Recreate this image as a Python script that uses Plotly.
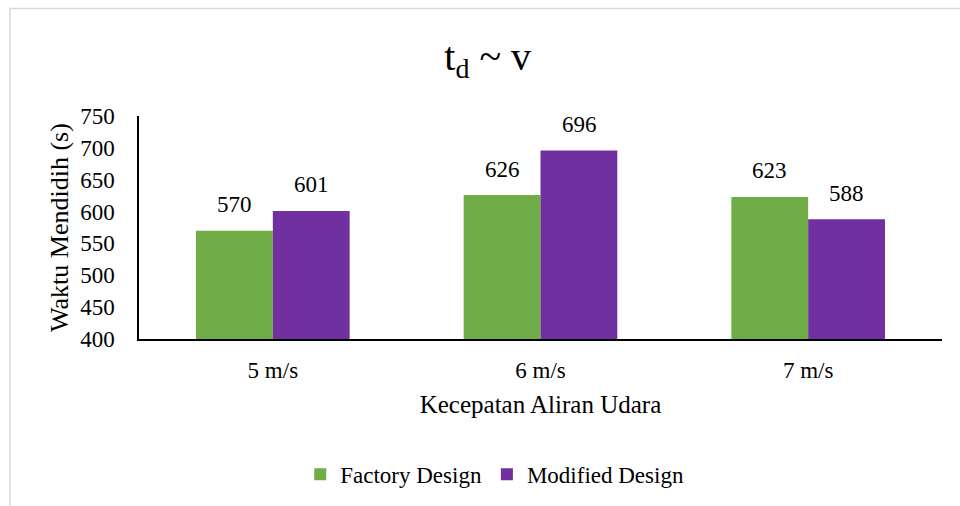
import plotly.graph_objects as go

# Boiling time (s) for each air-flow speed
categories = ["5 m/s", "6 m/s", "7 m/s"]
factory_design = [570, 626, 623]
modified_design = [601, 696, 588]
series_names = ["Factory Design", "Modified Design"]
y_ticks = [400, 450, 500, 550, 600, 650, 700, 750]

GREEN = "#70AD47"
PURPLE = "#7030A0"
FONT = "Liberation Serif"
TXT = 23

fig = go.Figure()
fig.add_trace(go.Bar(x=categories, y=factory_design, name=series_names[0],
                     marker=dict(color=GREEN, line=dict(width=0))))
fig.add_trace(go.Bar(x=categories, y=modified_design, name=series_names[1],
                     marker=dict(color=PURPLE, line=dict(width=0))))

# value labels above each bar
half = 38.5
for vals, shift in ((factory_design, -half), (modified_design, half)):
    for c, v in zip(categories, vals):
        fig.add_annotation(x=c, y=v, text=str(v), showarrow=False,
                           xshift=shift, yshift=26, yanchor="middle",
                           font=dict(family=FONT, size=TXT, color="#000000"))

# light frame around the chart area
fig.add_shape(type="rect", xref="paper", yref="paper",
              x0=-0.1606, x1=1.2, y0=-1.0, y1=1.482,
              line=dict(color="#D9D9D9", width=1.5), fillcolor="rgba(0,0,0,0)",
              layer="below")

fig.update_layout(
    width=960, height=506,
    margin=dict(l=139, r=18, t=116, b=166),
    paper_bgcolor="white", plot_bgcolor="white",
    barmode="group", bargap=0.426, bargroupgap=0,
    font=dict(family=FONT, size=TXT, color="#000000"),
    title=dict(text="t<sub>d</sub> ~ v", x=0.508, xanchor="center",
               y=0.89, yanchor="middle",
               font=dict(family=FONT, size=40, color="#000000")),
    legend=dict(orientation="h", x=0.443, xanchor="center", y=-0.6, yanchor="middle",
                font=dict(family=FONT, size=TXT, color="#000000"),
                itemwidth=30, traceorder="normal"),
    xaxis=dict(showline=True, linecolor="#000000", linewidth=1.5,
               ticks="", showgrid=False, ticklabelstandoff=10,
               tickfont=dict(family=FONT, size=TXT),
               title=dict(text="Kecepatan Aliran Udara", standoff=13,
                          font=dict(family=FONT, size=25))),
    yaxis=dict(range=[400, 750], tickvals=y_ticks, showline=True,
               linecolor="#000000", linewidth=1.5, ticks="", showgrid=False,
               zeroline=False, ticklabelstandoff=18,
               tickfont=dict(family=FONT, size=TXT),
               title=dict(text="Waktu Mendidih (s)", standoff=4,
                          font=dict(family=FONT, size=26))),
)

fig.write_html("out.html")
